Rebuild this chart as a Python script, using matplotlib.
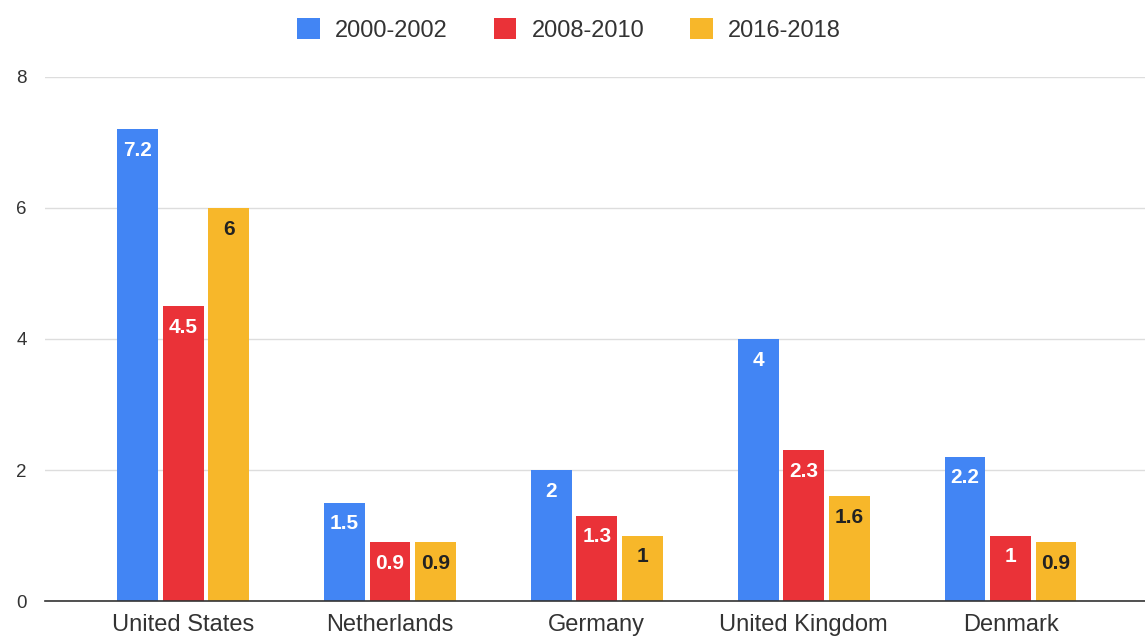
import matplotlib
matplotlib.use("Agg")
import matplotlib.pyplot as plt
import numpy as np

countries = ["United States", "Netherlands", "Germany", "United Kingdom", "Denmark"]
series_names = ["2000-2002", "2008-2010", "2016-2018"]
vals_2000 = [7.2, 1.5, 2, 4, 2.2]
vals_2008 = [4.5, 0.9, 1.3, 2.3, 1]
vals_2016 = [6, 0.9, 1, 1.6, 0.9]

colors = ["#4285F4", "#EA3238", "#F7B72A"]
label_colors = ["white", "white", "#222222"]

plt.rcParams["font.family"] = ["Liberation Sans", "DejaVu Sans"]

fig = plt.figure(figsize=(11.45, 6.36), dpi=100)
ax = fig.add_axes([0.0393, 0.055, 0.9607, 0.824])

x = np.arange(len(countries))
width = 0.197
offset = 0.22
for i, (vals, name) in enumerate(zip([vals_2000, vals_2008, vals_2016], series_names)):
    bars = ax.bar(x + (i - 1) * offset, vals, width, color=colors[i], label=name, zorder=3)
    ax.bar_label(bars, labels=[f"{v:g}" for v in vals], padding=-22,
                 color=label_colors[i], fontsize=15, fontweight="bold", zorder=4)

ax.set_xlim(-0.668, 4.65)
ax.set_ylim(0, 8)
ax.set_yticks([0, 2, 4, 6, 8])
ax.set_xticks(x)
ax.set_xticklabels(countries, fontsize=17, color="#333333")
ax.tick_params(axis="y", length=0, labelsize=13.5, labelcolor="#333333", pad=13)
ax.tick_params(axis="x", length=0, pad=9)
ax.grid(axis="y", color="#dddddd", linewidth=1, zorder=0)
for side in ["left", "right", "top"]:
    ax.spines[side].set_visible(False)
ax.spines["bottom"].set_color("#333333")
ax.spines["bottom"].set_linewidth(1.2)
ax.spines["bottom"].set_zorder(5)

fig.legend(loc="center", bbox_to_anchor=(0.497, 0.953), ncol=3, frameon=False,
           fontsize=17, handlelength=0.95, handleheight=0.95, columnspacing=1.95,
           handletextpad=0.65, labelcolor="#333333")

fig.savefig("out.png", dpi=100)
